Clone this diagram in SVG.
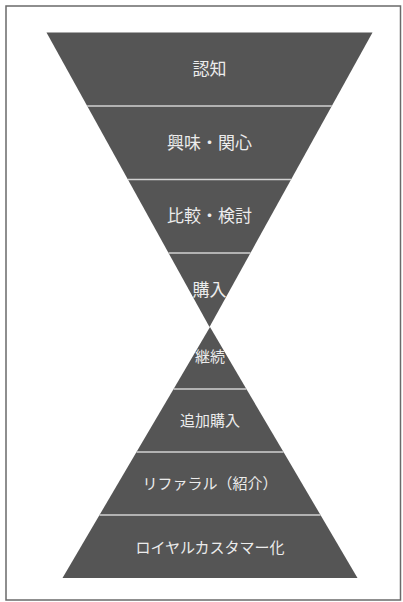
<svg xmlns="http://www.w3.org/2000/svg" width="403" height="602" viewBox="0 0 403 602">
<style>
.band{fill:#555555}
.div{stroke:#d2d2d2;stroke-width:1.6}
.lbl{fill:#ececec;font-family:"Noto Sans CJK JP","Noto Sans",sans-serif;text-anchor:middle;dominant-baseline:central}
.big{font-size:17px}
.small{font-size:15px}
</style>
<rect x="0" y="0" width="403" height="602" fill="#ffffff"/>
<rect x="6" y="6" width="394.5" height="594" fill="none" stroke="#6a6a6a" stroke-width="1.5"/>
<g id="node-ninchi"><polygon class="band" points="46.5,32.5 372.5,32.5 331.8,106 87.2,106"/><text class="lbl big" x="209.5" y="67.5">認知</text></g>
<g id="node-kyoumi"><polygon class="band" points="87.2,106 331.8,106 291.1,179.5 127.9,179.5"/><text class="lbl big" x="209.5" y="141">興味・関心</text></g>
<g id="node-hikaku"><polygon class="band" points="127.9,179.5 291.1,179.5 250.45,253 168.55,253"/><text class="lbl big" x="209.5" y="214">比較・検討</text></g>
<g id="node-kounyu"><polygon class="band" points="168.55,253 250.45,253 209.5,327"/><text class="lbl big" x="209.5" y="288">購入</text></g>
<g id="node-keizoku"><polygon class="band" points="210,327 246.4,389 173.6,389"/><text class="lbl small" x="210" y="355">継続</text></g>
<g id="node-tsuika"><polygon class="band" points="173.6,389 246.4,389 283.5,452 136.5,452"/><text class="lbl small" x="210" y="419">追加購入</text></g>
<g id="node-referral"><polygon class="band" points="136.5,452 283.5,452 320.5,515 99.5,515"/><text class="lbl small" x="210" y="482">リファラル（紹介）</text></g>
<g id="node-loyal"><polygon class="band" points="99.5,515 320.5,515 357.5,578 62.5,578"/><text class="lbl small" x="210" y="546">ロイヤルカスタマー化</text></g>
<g id="connectors">
<line class="div" x1="87.2" y1="106" x2="331.8" y2="106"/>
<line class="div" x1="127.9" y1="179.5" x2="291.1" y2="179.5"/>
<line class="div" x1="168.55" y1="253" x2="250.45" y2="253"/>
<line class="div" x1="173.6" y1="389" x2="246.4" y2="389"/>
<line class="div" x1="136.5" y1="452" x2="283.5" y2="452"/>
<line class="div" x1="99.5" y1="515" x2="320.5" y2="515"/>
</g>
</svg>
